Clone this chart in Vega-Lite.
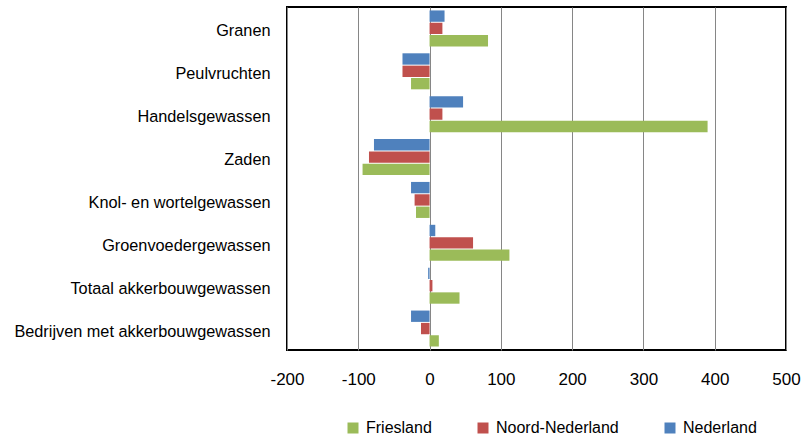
{
  "$schema": "https://vega.github.io/schema/vega-lite/v6.json",
  "width": 499,
  "height": 343,
  "autosize": {"type": "none"},
  "padding": {"left": 287, "top": 7, "right": 22, "bottom": 88},
  "background": "white",
  "config": {
    "font": "Liberation Sans",
    "view": {"stroke": "#000000", "strokeWidth": 2},
    "axis": {"labelFont": "Liberation Sans", "labelColor": "#000000", "domain": false, "ticks": false}
  },
  "data": {
    "values": [
      {"cat": "Granen", "reg": "Nederland", "v": 21},
      {"cat": "Granen", "reg": "Noord-Nederland", "v": 18},
      {"cat": "Granen", "reg": "Friesland", "v": 82},
      {"cat": "Peulvruchten", "reg": "Nederland", "v": -38},
      {"cat": "Peulvruchten", "reg": "Noord-Nederland", "v": -38},
      {"cat": "Peulvruchten", "reg": "Friesland", "v": -26},
      {"cat": "Handelsgewassen", "reg": "Nederland", "v": 47},
      {"cat": "Handelsgewassen", "reg": "Noord-Nederland", "v": 18},
      {"cat": "Handelsgewassen", "reg": "Friesland", "v": 390},
      {"cat": "Zaden", "reg": "Nederland", "v": -78},
      {"cat": "Zaden", "reg": "Noord-Nederland", "v": -85},
      {"cat": "Zaden", "reg": "Friesland", "v": -94},
      {"cat": "Knol- en wortelgewassen", "reg": "Nederland", "v": -26},
      {"cat": "Knol- en wortelgewassen", "reg": "Noord-Nederland", "v": -21},
      {"cat": "Knol- en wortelgewassen", "reg": "Friesland", "v": -19},
      {"cat": "Groenvoedergewassen", "reg": "Nederland", "v": 8},
      {"cat": "Groenvoedergewassen", "reg": "Noord-Nederland", "v": 61},
      {"cat": "Groenvoedergewassen", "reg": "Friesland", "v": 112},
      {"cat": "Totaal akkerbouwgewassen", "reg": "Nederland", "v": -2},
      {"cat": "Totaal akkerbouwgewassen", "reg": "Noord-Nederland", "v": 4},
      {"cat": "Totaal akkerbouwgewassen", "reg": "Friesland", "v": 42},
      {"cat": "Bedrijven met akkerbouwgewassen", "reg": "Nederland", "v": -26},
      {"cat": "Bedrijven met akkerbouwgewassen", "reg": "Noord-Nederland", "v": -12},
      {"cat": "Bedrijven met akkerbouwgewassen", "reg": "Friesland", "v": 13}
    ]
  },
  "mark": {"type": "bar"},
  "encoding": {
    "y": {
      "field": "cat",
      "type": "nominal",
      "sort": null,
      "scale": {"paddingInner": 0.16, "paddingOuter": 0.08},
      "axis": {"title": null, "labelFontSize": 16.3, "labelPadding": 17, "labelOffset": 3, "grid": false, "labelLimit": 300}
    },
    "yOffset": {
      "field": "reg",
      "type": "nominal",
      "sort": ["Nederland", "Noord-Nederland", "Friesland"],
      "scale": {"paddingInner": 0.08}
    },
    "x": {
      "field": "v",
      "type": "quantitative",
      "scale": {"domain": [-200, 500], "nice": false, "zero": false},
      "axis": {
        "title": null,
        "values": [-200, -100, 0, 100, 200, 300, 400, 500],
        "labelExpr": "'' + datum.value",
        "labelFlush": false,
        "labelFontSize": 17,
        "labelPadding": 21,
        "grid": true,
        "gridColor": "#868686",
        "gridWidth": 1,
        "gridOpacity": 1
      }
    },
    "color": {
      "field": "reg",
      "type": "nominal",
      "scale": {
        "domain": ["Friesland", "Noord-Nederland", "Nederland"],
        "range": ["#9BBB59", "#C0504D", "#4F81BD"]
      },
      "legend": {
        "title": null,
        "orient": "none",
        "direction": "horizontal",
        "legendX": 58,
        "legendY": 413,
        "symbolType": "square",
        "symbolSize": 121,
        "symbolStrokeWidth": 0,
        "labelFontSize": 16,
        "labelOffset": 5,
        "columnPadding": 43,
        "labelColor": "#000000"
      }
    }
  }
}
